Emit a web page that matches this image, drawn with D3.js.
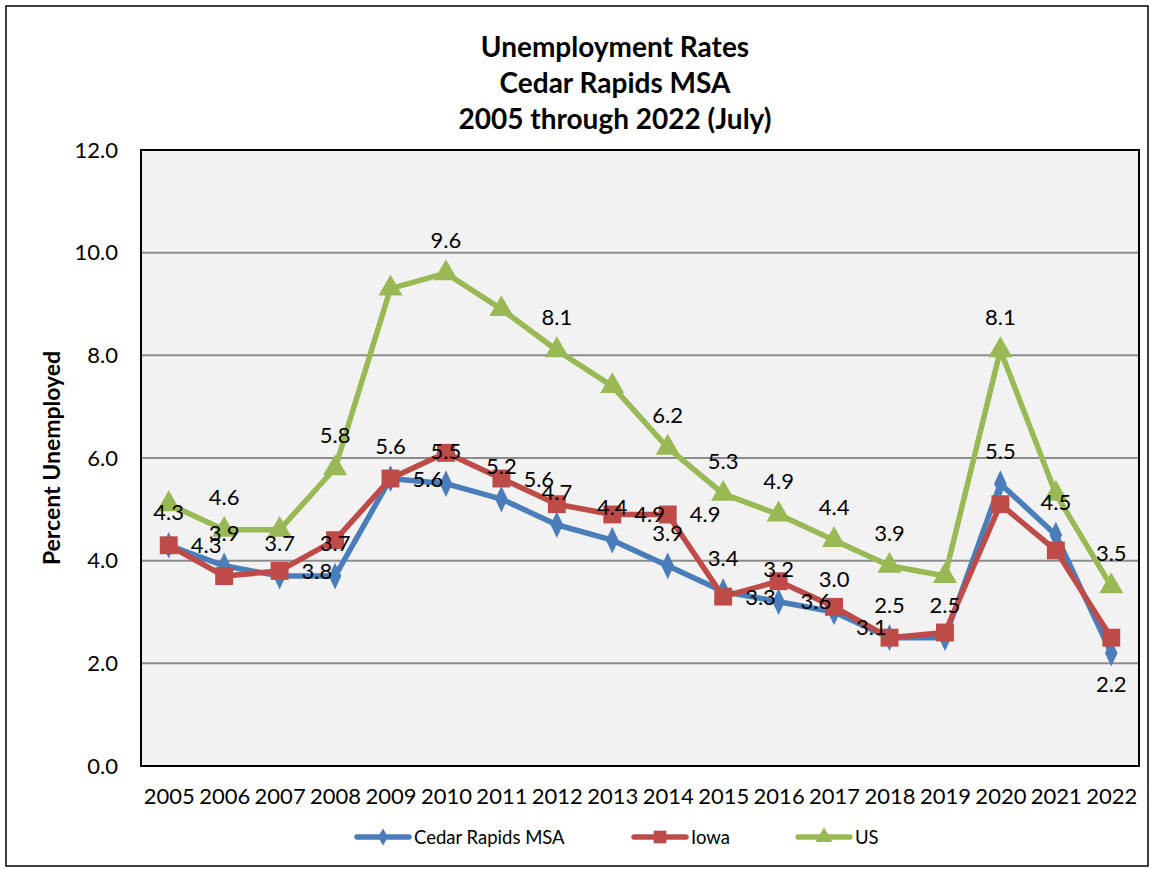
<!DOCTYPE html>
<html><head><meta charset="utf-8">
<script src="https://cdn.jsdelivr.net/npm/d3@7"></script>
<style>body{margin:0;background:#fff}svg{display:block}text{font-family:Lato,"Liberation Sans",sans-serif}</style>
</head><body>
<script>
const years = ["2005","2006","2007","2008","2009","2010","2011","2012","2013","2014","2015","2016","2017","2018","2019","2020","2021","2022"];
const cedarRapids = [4.3,3.9,3.7,3.7,5.6,5.5,5.2,4.7,4.4,3.9,3.4,3.2,3.0,2.5,2.5,5.5,4.5,2.2];
const iowa = [4.3,3.7,3.8,4.4,5.6,6.1,5.6,5.1,4.9,4.9,3.3,3.6,3.1,2.5,2.6,5.1,4.2,2.5];
const us = [5.1,4.6,4.6,5.8,9.3,9.6,8.9,8.1,7.4,6.2,5.3,4.9,4.4,3.9,3.7,8.1,5.3,3.5];
// data label texts (null = no label shown)
const cedarRapidsLabels = ["4.3","3.9","3.7","3.7","5.6","5.5","5.2","4.7","4.4","3.9","3.4","3.2","3.0","2.5","2.5","5.5","4.5","2.2"];
const cedarRapidsLabelPos = ["above","above","above","above","above","above","above","above","above","above","above","above","above","above","above","above","above","below"];
const iowaLabels = ["4.3",null,"3.8",null,"5.6",null,"5.6",null,"4.9","4.9","3.3","3.6","3.1",null,null,null,null,null];
const iowaLabelPos = ["right","right","right","right","right","right","right","right","right","right","right","belowright","belowright","right","right","right","right","right"];
const usLabels = [null,"4.6",null,"5.8",null,"9.6",null,"8.1",null,"6.2","5.3","4.9","4.4","3.9",null,"8.1",null,"3.5"];
const yTicks = [0,2,4,6,8,10,12];
const titleLines = ["Unemployment Rates","Cedar Rapids MSA","2005 through 2022 (July)"];
const seriesNames = ["Cedar Rapids MSA","Iowa","US"];
const colors = ["#4A7EBB","#BE4B48","#98B954"];

const W = 1154, H = 869;
const svg = d3.select("body").append("svg").attr("width", W).attr("height", H);
svg.append("rect").attr("x",6).attr("y",6).attr("width",1142).attr("height",860)
  .attr("fill","#fff").attr("stroke","#000").attr("stroke-width",1.5);

const plot = {l:141, t:150, r:1139, b:766};
const x = d3.scalePoint().domain(years).range([plot.l, plot.r]).padding(0.5);
const y = d3.scaleLinear().domain([0,12]).range([plot.b, plot.t]);

svg.append("rect").attr("x",plot.l).attr("y",plot.t).attr("width",plot.r-plot.l).attr("height",plot.b-plot.t)
  .attr("fill","#F2F2F2");
// gridlines
svg.append("g").selectAll("line").data(yTicks.filter(d=>d>0 && d<12)).join("line")
  .attr("x1",plot.l).attr("x2",plot.r).attr("y1",d=>y(d)).attr("y2",d=>y(d))
  .attr("stroke","#8C8C8C").attr("stroke-width",2);
svg.append("line").attr("x1",plot.l).attr("x2",plot.r).attr("y1",plot.b).attr("y2",plot.b)
  .attr("stroke","#8C8C8C").attr("stroke-width",2);
svg.append("rect").attr("x",plot.l).attr("y",plot.t).attr("width",plot.r-plot.l).attr("height",plot.b-plot.t)
  .attr("fill","none").attr("stroke","#000").attr("stroke-width",2);

// axes
const yAxis = d3.axisLeft(y).tickValues(yTicks).tickFormat(d3.format(".1f")).tickSize(0).tickPadding(23);
const gy = svg.append("g").attr("transform",`translate(${plot.l},0)`).call(yAxis);
gy.select(".domain").remove();
gy.selectAll("text").attr("font-size",22).attr("fill","#000").style("font-family","Lato");
const xAxis = d3.axisBottom(x).tickSize(0).tickPadding(22);
const gx = svg.append("g").attr("transform",`translate(0,${plot.b})`).call(xAxis);
gx.select(".domain").remove();
gx.selectAll("text").attr("font-size",22).attr("fill","#000").style("font-family","Lato");

// title
svg.append("text").attr("text-anchor","middle").attr("font-weight","bold").attr("font-size",28)
  .selectAll("tspan").data(titleLines).join("tspan")
  .attr("x",615).attr("y",(d,i)=>57+i*36).text(d=>d);

svg.append("text").attr("transform",`translate(60,${(plot.t+plot.b)/2}) rotate(-90)`)
  .attr("text-anchor","middle").attr("font-weight","bold").attr("font-size",23).text("Percent Unemployed");

const allSeries = [cedarRapids, iowa, us];
const line = d3.line().x((d,i)=>x(years[i])).y(d=>y(d));
const symbols = [d3.symbolDiamond, d3.symbolSquare, d3.symbolTriangle];
const symSizes = [170, 320, 250];

allSeries.forEach((s,k)=>{
  const g = svg.append("g");
  g.append("path").datum(s).attr("d",line).attr("fill","none").attr("stroke",colors[k])
    .attr("stroke-width",5.5).attr("stroke-linejoin","round");
  g.selectAll("path.m").data(s).join("path").attr("class","m")
    .attr("transform",(d,i)=>`translate(${x(years[i])},${y(d)})`+(k===0?" scale(0.9,1.1)":""))
    .attr("d",d3.symbol().type(symbols[k]).size(symSizes[k])).attr("fill",colors[k]);
});

// data labels
const lab = svg.append("g").attr("font-size",22).attr("fill","#000");
function addLabels(vals, texts, posArr){
  texts.forEach((t,i)=>{
    if(t==null) return;
    const px = x(years[i]), py = y(vals[i]);
    const pos = typeof posArr === "string" ? posArr : posArr[i];
    let tx=px, ty=py, anchor="middle";
    if(pos==="above"){ ty = py-25; }
    else if(pos==="below"){ ty = py+39; }
    else if(pos==="right"){ tx = px+22; ty = py+8; anchor="start"; }
    else if(pos==="belowright"){ tx = px+22; ty = py+28; anchor="start"; }
    lab.append("text").attr("x",tx).attr("y",ty).attr("text-anchor",anchor).text(t);
  });
}
addLabels(cedarRapids, cedarRapidsLabels, cedarRapidsLabelPos);
addLabels(iowa, iowaLabels, iowaLabelPos);
addLabels(us, usLabels, "above");

// legend
const legendX = [357, 634, 798];
const lg = svg.append("g");
seriesNames.forEach((n,k)=>{
  const lx = legendX[k], ly = 837;
  lg.append("line").attr("x1",lx).attr("x2",lx+52).attr("y1",ly).attr("y2",ly)
    .attr("stroke",colors[k]).attr("stroke-width",5.5).attr("stroke-linecap","round");
  lg.append("path").attr("transform",`translate(${lx+26},${ly})`)
    .attr("d",d3.symbol().type(symbols[k]).size(symSizes[k]*0.5)).attr("fill",colors[k]);
  lg.append("text").attr("x",lx+57).attr("y",ly+7).attr("font-size",18.5).text(n);
});
</script>
</body></html>
